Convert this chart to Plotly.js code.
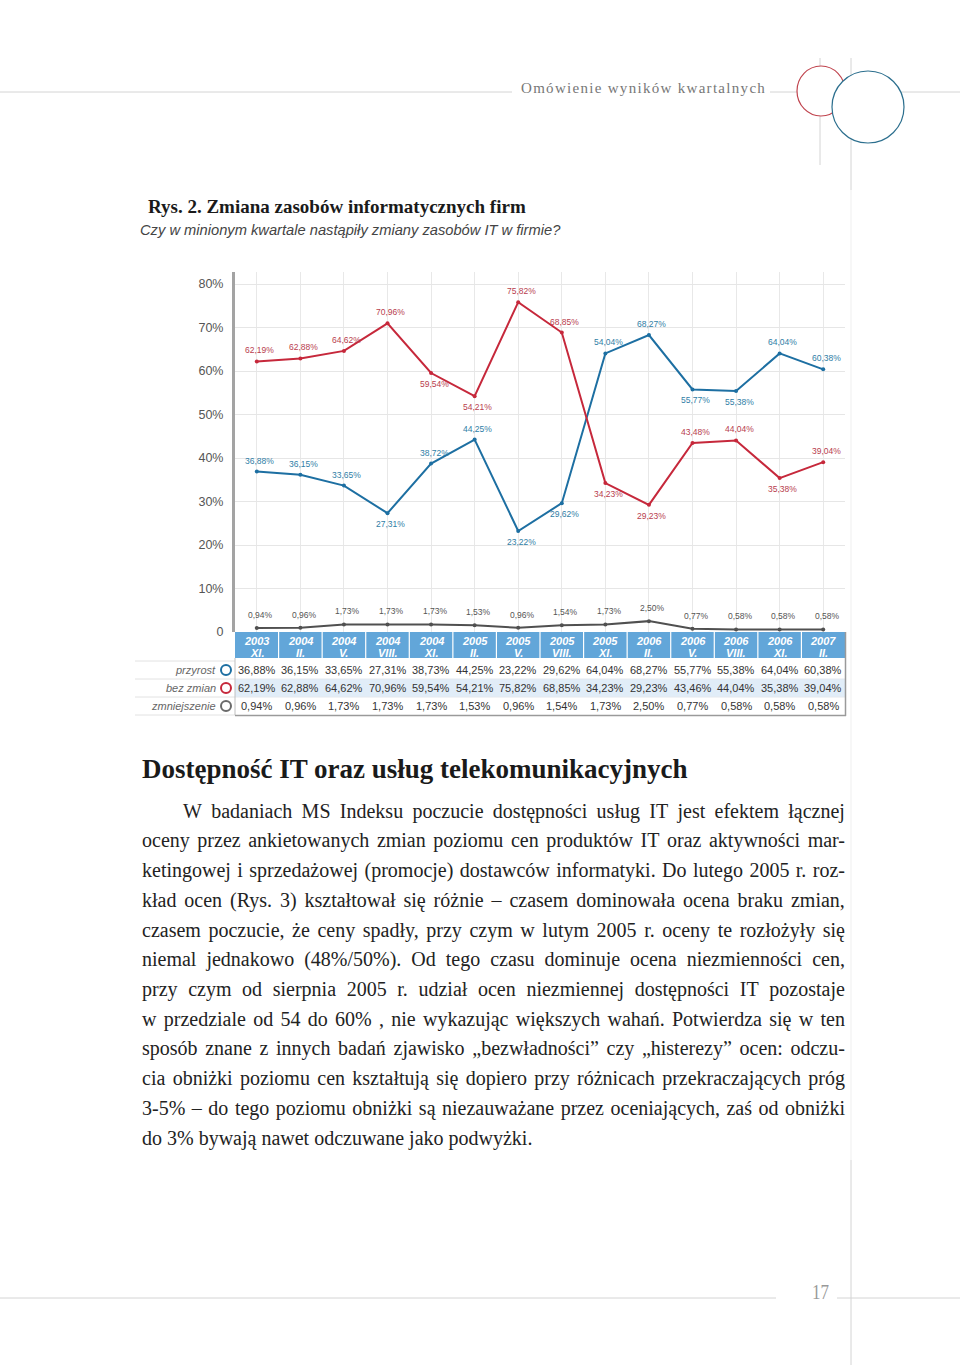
<!DOCTYPE html>
<html>
<head>
<meta charset="utf-8">
<script src="https://cdn.plot.ly/plotly-3.0.1.min.js"></script>
<style>
  html, body { margin:0; padding:0; background:#fff; }
  #page { position:relative; width:960px; height:1365px; overflow:hidden; }
  #chart { position:absolute; left:0; top:0; width:960px; height:1365px; }
  .txt { position:absolute; white-space:nowrap; }
  .line { position:absolute; display:flex; justify-content:space-between; white-space:nowrap; }
</style>
</head>
<body>
<div id="page">
  <div id="chart"></div>
</div>
<script>
// ---- data ----
const years  = ['2003','2004','2004','2004','2004','2005','2005','2005','2005','2006','2006','2006','2006','2007'];
const months = ['XI.','II.','V.','VIII.','XI.','II.','V.','VIII.','XI.','II.','V.','VIII.','XI.','II.'];

const przyrost     = [36.88,36.15,33.65,27.31,38.73,44.25,23.22,29.62,64.04,68.27,55.77,55.38,64.04,60.38];
const bezZmian     = [62.19,62.88,64.62,70.96,59.54,54.21,75.82,68.85,34.23,29.23,43.46,44.04,35.38,39.04];
const zmniejszenie = [0.94,0.96,1.73,1.73,1.73,1.53,0.96,1.54,1.73,2.50,0.77,0.58,0.58,0.58];

// labels as printed on the chart
const przyrostLabels = ['36,88%','36,15%','33,65%','27,31%','38,72%','44,25%','23,22%','29,62%','54,04%','68,27%','55,77%','55,38%','64,04%','60,38%'];
const bezZmianLabels = ['62,19%','62,88%','64,62%','70,96%','59,54%','54,21%','75,82%','68,85%','34,23%','29,23%','43,48%','44,04%','35,38%','39,04%'];
const przyrostSide = ['t','t','t','b','t','t','b','b','t','t','b','b','t','t'];
const bezZmianSide = ['t','t','t','t','b','b','t','t','b','b','t','t','b','t'];

const seriesNames = ['przyrost','bez zmian','zmniejszenie'];
const yTickVals = [0,10,20,30,40,50,60,70,80];
const yTickText = ['0','10%','20%','30%','40%','50%','60%','70%','80%'];

const headerText = 'Omówienie wyników kwartalnych';
const figTitle = 'Rys. 2. Zmiana zasobów informatycznych firm';
const figSubtitle = 'Czy w minionym kwartale nastąpiły zmiany zasobów IT w firmie?';
const heading = 'Dostępność IT oraz usług telekomunikacyjnych';
const paragraph = [
 'W badaniach MS Indeksu poczucie dostępności usług IT jest efektem łącznej',
 'oceny przez ankietowanych zmian poziomu cen produktów IT oraz aktywności mar-',
 'ketingowej i sprzedażowej (promocje) dostawców informatyki. Do lutego 2005 r. roz-',
 'kład ocen (Rys. 3) kształtował się różnie – czasem dominowała ocena braku zmian,',
 'czasem poczucie, że ceny spadły, przy czym w lutym 2005 r. oceny te rozłożyły się',
 'niemal jednakowo (48%/50%). Od tego czasu dominuje ocena niezmienności cen,',
 'przy czym od sierpnia 2005 r. udział ocen niezmiennej dostępności IT pozostaje',
 'w przedziale od 54 do 60% , nie wykazując większych wahań. Potwierdza się w ten',
 'sposób znane z innych badań zjawisko „bezwładności” czy „histerezy” ocen: odczu-',
 'cia obniżki poziomu cen kształtują się dopiero przy różnicach przekraczających próg',
 '3-5% – do tego poziomu obniżki są niezauważane przez oceniających, zaś od obniżki',
 'do 3% bywają nawet odczuwane jako podwyżki.'
];
const pageNumber = '17';

// ---- helpers ----
const W = 960, H = 1365;
const px = x => x / W;
const py = y => 1 - y / H;
const fmt = v => v.toFixed(2).replace('.', ',') + '%';
const idx = years.map((_, i) => i);

const RED = '#c6283b', BLUE = '#1d6fa2', GRAY = '#505050';
const SANS = 'Liberation Sans, Arial, sans-serif';
const SERIF = 'Liberation Serif, Times New Roman, serif';

const traces = [
  {x: idx, y: przyrost, name: seriesNames[0], mode: 'lines+markers', line: {color: BLUE, width: 2}, marker: {size: 4, color: BLUE}, hoverinfo: 'skip'},
  {x: idx, y: bezZmian, name: seriesNames[1], mode: 'lines+markers', line: {color: RED, width: 2}, marker: {size: 4, color: RED}, hoverinfo: 'skip'},
  {x: idx, y: zmniejszenie, name: seriesNames[2], mode: 'lines+markers', line: {color: GRAY, width: 2}, marker: {size: 4, color: GRAY}, hoverinfo: 'skip'}
];

const annotations = [];
const shapes = [];

// point labels
idx.forEach(i => {
  annotations.push({x: i, y: przyrost[i], xref: 'x', yref: 'y', text: przyrostLabels[i], showarrow: false,
    yshift: przyrostSide[i] === 't' ? 11 : -11, xshift: 3, font: {family: SANS, size: 8.5, color: '#2f7ea6'}});
  annotations.push({x: i, y: bezZmian[i], xref: 'x', yref: 'y', text: bezZmianLabels[i], showarrow: false,
    yshift: bezZmianSide[i] === 't' ? 11 : -11, xshift: 3, font: {family: SANS, size: 8.5, color: '#b8404e'}});
  annotations.push({x: i, y: zmniejszenie[i], xref: 'x', yref: 'y', text: fmt(zmniejszenie[i]), showarrow: false,
    yshift: 13, xshift: 4, font: {family: SANS, size: 8.5, color: '#555'}});
});

// category band
shapes.push({type: 'rect', xref: 'x', yref: 'paper', x0: -0.5, x1: 13.5, y0: py(658), y1: py(632), fillcolor: '#62a6d9', line: {width: 0}, layer: 'above'});
idx.slice(0, -1).forEach(i => {
  shapes.push({type: 'line', xref: 'x', yref: 'paper', x0: i + 0.5, x1: i + 0.5, y0: py(658), y1: py(632), line: {color: '#ffffff', width: 1.2}, layer: 'above'});
});
idx.forEach(i => {
  annotations.push({x: i, xref: 'x', y: py(641), yref: 'paper', showarrow: false,
    text: '<b><i>' + years[i] + '</i></b>', font: {family: SANS, size: 11, color: '#ffffff'}});
  annotations.push({x: i, xref: 'x', y: py(652.5), yref: 'paper', showarrow: false,
    text: '<b><i>' + months[i] + '</i></b>', font: {family: SANS, size: 11, color: '#ffffff'}});
});

// table
const rowY = [670, 688, 706];
const rowData = [przyrost, bezZmian, zmniejszenie];
const rowColors = [BLUE, RED, '#6a6a6a'];
shapes.push({type: 'rect', xref: 'x', yref: 'paper', x0: -0.5, x1: 13.5, y0: py(697), y1: py(679), fillcolor: '#e1edf8', line: {width: 0}, layer: 'above'});
[661, 679, 697, 715].forEach(y => {
  shapes.push({type: 'line', xref: 'paper', yref: 'paper', x0: px(135), x1: px(235), y0: py(y), y1: py(y), line: {color: '#e2e2e2', width: 1}});
});
[679, 697].forEach(y => {
  shapes.push({type: 'line', xref: 'paper', yref: 'paper', x0: px(235), x1: px(845), y0: py(y), y1: py(y), line: {color: '#e4e8ee', width: 1}, layer: 'above'});
});
shapes.push({type: 'line', xref: 'paper', yref: 'paper', x0: px(235), x1: px(235), y0: py(658), y1: py(715), line: {color: '#c0c0c0', width: 1}, layer: 'above'});
shapes.push({type: 'line', xref: 'paper', yref: 'paper', x0: px(845.5), x1: px(845.5), y0: py(632), y1: py(716), line: {color: '#9a9a9a', width: 1.5}, layer: 'above'});
shapes.push({type: 'line', xref: 'paper', yref: 'paper', x0: px(235), x1: px(846), y0: py(715.5), y1: py(715.5), line: {color: '#9a9a9a', width: 1.5}, layer: 'above'});

rowData.forEach((arr, r) => {
  idx.forEach(i => {
    annotations.push({x: i, xref: 'x', y: py(rowY[r]), yref: 'paper', showarrow: false, text: fmt(arr[i]),
      font: {family: SANS, size: 11, color: '#333'}});
  });
  annotations.push({x: px(218), xref: 'paper', xanchor: 'right', y: py(rowY[r]), yref: 'paper', showarrow: false,
    text: '<i>' + seriesNames[r] + '</i>', font: {family: SANS, size: 11, color: '#666'}});
  shapes.push({type: 'circle', xref: 'paper', yref: 'paper', x0: px(221), x1: px(231), y0: py(rowY[r] + 5), y1: py(rowY[r] - 5),
    line: {color: rowColors[r], width: 2}, fillcolor: 'rgba(0,0,0,0)'});
});

// page decorations (lines first, then white-filled circles on top)
const gl = {color: '#d4d4d4', width: 1};
const lineSeg = (x0, y0, x1, y1, l) => shapes.push({type: 'line', xref: 'paper', yref: 'paper', x0: px(x0), x1: px(x1), y0: py(y0), y1: py(y1), line: l || gl});
lineSeg(0, 92, 512, 92);
lineSeg(770, 92, 960, 92);
lineSeg(820, 58, 820, 165);
lineSeg(851, 58, 851, 190);
lineSeg(851, 190, 851, 1160, {color: '#efefef', width: 1});
lineSeg(851, 1160, 851, 1365);
lineSeg(0, 1298, 776, 1298);
lineSeg(837, 1298, 960, 1298);
shapes.push({type: 'circle', xref: 'paper', yref: 'paper', x0: px(797), x1: px(845), y0: py(116), y1: py(66), line: {color: '#c0444e', width: 1.2}, fillcolor: '#ffffff'});
shapes.push({type: 'circle', xref: 'paper', yref: 'paper', x0: px(832), x1: px(904), y0: py(143), y1: py(71), line: {color: '#2c6f8e', width: 1.2}, fillcolor: '#ffffff'});

const layout = {
  width: W, height: H, margin: {l: 0, r: 0, t: 0, b: 0},
  paper_bgcolor: '#ffffff', plot_bgcolor: '#ffffff', showlegend: false,
  xaxis: {domain: [px(235), px(845)], range: [-0.5, 13.5], tickvals: idx, showticklabels: false,
          showgrid: true, gridcolor: '#e8e8e8', gridwidth: 1, zeroline: false, showline: false, ticks: '', fixedrange: true},
  yaxis: {domain: [py(632), py(272)], range: [0, 82.76], tickvals: yTickVals, ticktext: yTickText,
          showgrid: true, gridcolor: '#e6e6e6', gridwidth: 1, zeroline: false, showline: true, linecolor: '#a3a3a3', linewidth: 3,
          ticks: '', ticklabelstandoff: 6, tickfont: {family: SANS, size: 12.5, color: '#555'}, fixedrange: true},
  annotations: annotations,
  shapes: shapes
};

Plotly.newPlot('chart', traces, layout, {staticPlot: true, displayModeBar: false});

// ---- page text (HTML) ----
const page = document.getElementById('page');
function addText(text, x, yc, size, css) {
  const d = document.createElement('div');
  d.className = 'txt';
  d.textContent = text;
  d.style.left = x + 'px';
  d.style.top = (yc - size * 0.6) + 'px';
  d.style.fontSize = size + 'px';
  d.style.lineHeight = (size * 1.2) + 'px';
  Object.assign(d.style, css || {});
  page.appendChild(d);
  return d;
}
addText(headerText, 521, 88, 15, {fontFamily: SERIF, color: '#777', letterSpacing: '1.3px'});
addText(figTitle, 148, 207, 19, {fontFamily: SERIF, fontWeight: 'bold', color: '#1a1a1a'});
addText(figSubtitle, 140, 231, 14.7, {fontFamily: SANS, fontStyle: 'italic', color: '#444'});
addText(heading, 142, 769, 27, {fontFamily: SERIF, fontWeight: 'bold', color: '#1a1a1a'});
addText(pageNumber, 812, 1292, 20, {fontFamily: SERIF, color: '#999', transform: 'scaleX(0.85)', transformOrigin: 'left center'});

const lineTop = 811, lineStep = 29.73, pSize = 20;
paragraph.forEach((ln, k) => {
  const d = document.createElement('div');
  d.className = 'line';
  const left = k === 0 ? 183 : 142;
  d.style.left = left + 'px';
  d.style.top = (lineTop + k * lineStep - pSize * 0.62) + 'px';
  d.style.fontFamily = SERIF;
  d.style.fontSize = pSize + 'px';
  d.style.lineHeight = (pSize * 1.2) + 'px';
  d.style.color = '#222';
  if (k === paragraph.length - 1) {
    d.style.justifyContent = 'flex-start';
    d.textContent = ln;
  } else {
    d.style.width = (845 - left) + 'px';
    ln.split(' ').forEach(w => {
      const s = document.createElement('span');
      s.textContent = w;
      d.appendChild(s);
    });
  }
  page.appendChild(d);
});
</script>
</body>
</html>
